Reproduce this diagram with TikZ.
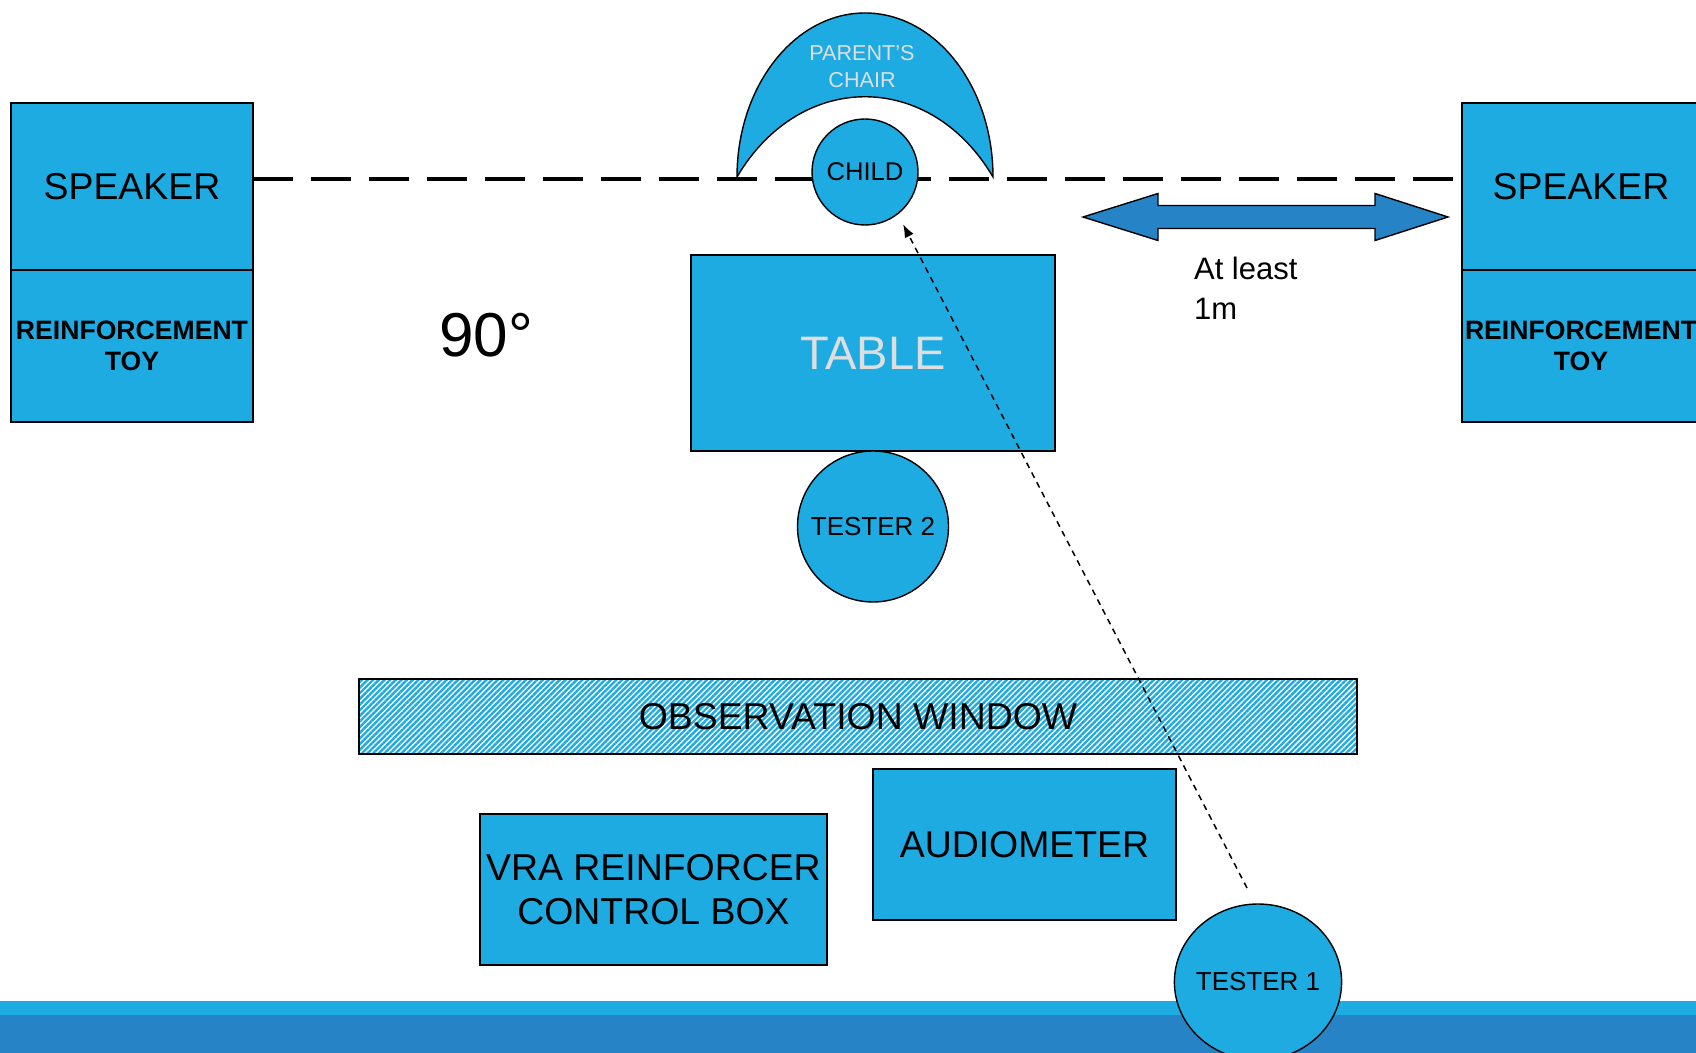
\documentclass[tikz,border=0pt]{standalone}
\usepackage{fontspec}
\setmainfont{Liberation Sans}
\usetikzlibrary{arrows.meta,positioning,patterns.meta,shapes.geometric}
\definecolor{roomblue}{RGB}{29,171,226}
\definecolor{deepblue}{RGB}{38,131,198}
\definecolor{paletext}{RGB}{222,222,222}

\begin{document}
\begin{tikzpicture}[
  x=0.5pt, y=-0.5pt,
  box/.style={draw, fill=roomblue, line width=0.7pt, inner sep=0pt, outer sep=0pt, align=center},
  seat/.style={box, circle},
  big/.style={font=\fontsize{18.7}{22}\selectfont},
  toy/.style={font=\fontsize{13.3}{15.5}\selectfont\bfseries},
  gaze/.style={-{Latex[length=6.5pt,width=5pt]}, line width=0.75pt, dash pattern=on 3pt off 2.5pt},
  floorline/.style={line width=2pt, dash pattern=on 20pt off 9pt}
]
\useasboundingbox (0,0) rectangle (1696,1053);

% speakers with toys underneath
\node[box, big, minimum width=121pt, minimum height=83.5pt] (spkL) at (132,186.5) {SPEAKER};
\node[box, toy, minimum width=121pt, minimum height=76pt, below=0pt of spkL] (toyL) {REINFORCEMENT\\TOY};
\node[box, big, minimum width=119pt, minimum height=83.5pt] (spkR) at (1581,186.5) {SPEAKER};
\node[box, toy, minimum width=119pt, minimum height=76pt, below=0pt of spkR] (toyR) {REINFORCEMENT\\TOY};

\draw[floorline] ([yshift=3.75pt]spkL.east) -- ([yshift=3.75pt]spkR.west);

% parent's chair
\draw[fill=roomblue, line width=0.7pt] (737,177) arc[start angle=180, end angle=360, x radius=128, y radius=164]
  .. controls (930,70) and (800,70) .. (737,177) -- cycle;
\node[text=paletext, align=center, font=\fontsize{10.8}{13.5}\selectfont] (chairlbl) at (862,67) {PARENT’S\\CHAIR};
\node[seat, minimum size=53pt, font=\fontsize{12.8}{15}\selectfont] (child) at (865,172) {CHILD};

\node[box, text=paletext, minimum width=182pt, minimum height=98pt, font=\fontsize{23.5}{27}\selectfont] (table) at (873,353) {TABLE};
\node[seat, minimum size=75.5pt, below=0pt of table, font=\fontsize{13}{15}\selectfont] (tester2) {TESTER 2};

\node[font=\fontsize{31}{36}\selectfont] (angle) at (486,335) {90°};

% distance marker
\draw[fill=deepblue, line width=0.7pt] (1083,217) -- (1158,193.5) -- (1158,205.5) -- (1375,205.5) -- (1375,193.5)
  -- (1448,217) -- (1375,240.5) -- (1375,228.5) -- (1158,228.5) -- (1158,240.5) -- cycle;
\node[align=left, anchor=west, font=\fontsize{15.5}{20}\selectfont] (distlbl) at (1187,288) {At least\\1m};

% control room
\node[draw, line width=0.7pt, inner sep=0pt, preaction={fill=white},
  pattern={Lines[angle=45,distance=2pt,line width=1.2pt]}, pattern color=roomblue,
  minimum width=499pt, minimum height=37.5pt, big] (window) at (858,716.5) {OBSERVATION WINDOW};
\node[box, big, minimum width=151.5pt, minimum height=75.5pt] (audiometer) at (1024.5,844.5) {AUDIOMETER};
\node[box, big, minimum width=173.5pt, minimum height=75.5pt] (vrabox) at (653.5,889.5) {VRA REINFORCER\\CONTROL BOX};

\fill[roomblue] (0,1001) rectangle (1696,1015);
\fill[deepblue] (0,1015) rectangle (1696,1053);

\node[box, ellipse, inner xsep=-1.5pt, minimum width=79pt, minimum height=78pt, font=\fontsize{13}{15}\selectfont] (tester1) at (1258,982) {TESTER 1};

\draw[gaze, shorten >=6pt] ([xshift=-5.5pt,yshift=8pt]tester1.north) -- (child.-52);
\end{tikzpicture}
\end{document}
